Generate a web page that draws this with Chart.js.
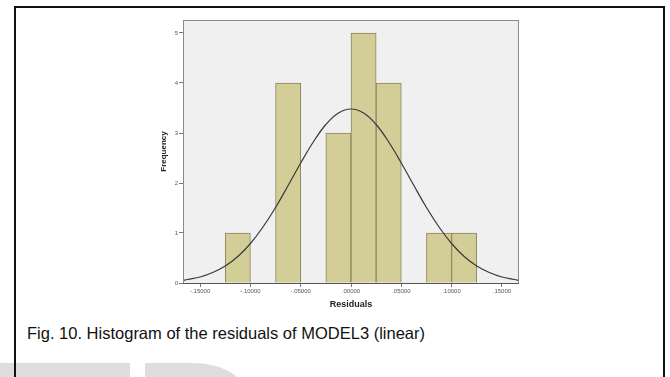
<!DOCTYPE html>
<html lang="en">
<head>
    <meta charset="UTF-8">
    <title>Histogram of residuals</title>
    <script src="https://cdn.jsdelivr.net/npm/chart.js"></script>
    <style>
        html, body { margin: 0; padding: 0; background: #fff; overflow: hidden; }
        body { width: 670px; height: 377px; position: relative; font-family: "Liberation Sans", Arial, sans-serif; }
        .wm1 { position: absolute; left: 0; top: 363px; width: 130px; height: 20px; background: #dedede; }
        .wm2 { position: absolute; left: 145px; top: 363px; width: 100px; height: 30px; background: #dedede; border-top-right-radius: 52px 30px; }
        .frame { position: absolute; left: 14px; top: 6px; width: 647px; height: 400px; border: 2px solid #111; border-bottom: none; }
        .caption { position: absolute; left: 27px; top: 324px; font-size: 16.5px; color: #111; white-space: nowrap; }
        #myChart { position: absolute; left: 0; top: 0; }
    </style>
</head>
<body>
    <div class="wm1"></div>
    <div class="wm2"></div>
    <div class="frame"></div>
    <div class="caption">Fig. 10. Histogram of the residuals of MODEL3 (linear)</div>
    <canvas id="myChart" width="670" height="377"></canvas>

    <script>
        // histogram bins (centre of each bin) and counts
        const binCenters = [-0.1125, -0.0625, -0.0125, 0.0125, 0.0375, 0.0875, 0.1125];
        const binCounts = [1, 4, 3, 5, 4, 1, 1];

        // normal curve
        const curveX = [-0.167, -0.1625, -0.15, -0.1375, -0.125, -0.1125, -0.1, -0.0875, -0.075, -0.0625, -0.05, -0.0375, -0.025, -0.0125, 0,
                        0.0125, 0.025, 0.0375, 0.05, 0.0625, 0.075, 0.0875, 0.1, 0.1125, 0.125, 0.1375, 0.15, 0.1625, 0.167];
        const curveY = [0.05, 0.07, 0.12, 0.21, 0.34, 0.53, 0.79, 1.12, 1.51, 1.95, 2.40, 2.82, 3.17, 3.40, 3.48,
                        3.40, 3.17, 2.82, 2.40, 1.95, 1.51, 1.12, 0.79, 0.53, 0.34, 0.21, 0.12, 0.07, 0.05];

        const xTickValues = [-0.15, -0.10, -0.05, 0, 0.05, 0.10, 0.15];
        const xTickLabels = ['-.15000', '-.10000', '-.05000', '.00000', '.05000', '.10000', '.15000'];
        const yTickValues = [0, 1, 2, 3, 4, 5];
        const yTickLabels = ['0', '1', '2', '3', '4', '5'];

        const plotBox = {
            id: 'plotBox',
            beforeDraw: (chart) => {
                const {ctx, chartArea: a} = chart;
                ctx.save();
                ctx.fillStyle = '#f0f0f0';
                ctx.fillRect(a.left, a.top, a.right - a.left, a.bottom - a.top);
                ctx.restore();
            },
            afterDraw: (chart) => {
                const {ctx, chartArea: a} = chart;
                ctx.save();
                ctx.strokeStyle = '#8a8a8a';
                ctx.lineWidth = 1;
                ctx.strokeRect(a.left + 0.5, a.top + 0.5, a.right - a.left - 1, a.bottom - a.top);
                ctx.strokeStyle = '#555';
                ctx.beginPath();
                ctx.moveTo(a.left, a.bottom + 0.5);
                ctx.lineTo(a.right, a.bottom + 0.5);
                ctx.stroke();
                ctx.restore();
            }
        };

        const ctx = document.getElementById('myChart');

        new Chart(ctx, {
            type: 'bar',
            data: {
                datasets: [
                    {
                        type: 'line',
                        label: 'Normal',
                        data: curveX.map((x, i) => ({x: x, y: curveY[i]})),
                        borderColor: '#3a3a3a',
                        borderWidth: 1.2,
                        pointRadius: 0,
                        tension: 0.4,
                        fill: false,
                        order: 0
                    },
                    {
                        label: 'Frequency',
                        data: binCenters.map((x, i) => ({x: x, y: binCounts[i]})),
                        backgroundColor: '#d3cd97',
                        borderColor: '#8b875f',
                        borderWidth: 1,
                        barPercentage: 1,
                        categoryPercentage: 1,
                        order: 1
                    }
                ]
            },
            options: {
                responsive: false,
                animation: false,
                layout: { padding: { left: 150, top: 20, right: 151, bottom: 67 } },
                plugins: { legend: { display: false }, tooltip: { enabled: false } },
                scales: {
                    x: {
                        type: 'linear',
                        offset: false,
                        min: -0.167,
                        max: 0.167,
                        afterBuildTicks: (s) => { s.ticks = xTickValues.map(v => ({value: v})); },
                        afterFit: (s) => { s.height = 27; s.paddingLeft = 0; s.paddingRight = 0; },
                        border: { display: false },
                        grid: { offset: false, drawOnChartArea: false, tickLength: 4, color: '#777' },
                        ticks: {
                            padding: 1,
                            color: '#555',
                            font: { size: 6, family: 'Liberation Sans' },
                            maxRotation: 0,
                            callback: (v) => xTickLabels[xTickValues.indexOf(v)]
                        },
                        title: {
                            display: true,
                            text: 'Residuals',
                            color: '#222',
                            padding: { top: 0, bottom: 0 },
                            font: { size: 9, weight: 'bold', family: 'Liberation Sans' }
                        }
                    },
                    y: {
                        min: 0,
                        max: 5.26,
                        afterBuildTicks: (s) => { s.ticks = yTickValues.map(v => ({value: v})); },
                        afterFit: (s) => { s.width = 33; s.paddingTop = 0; s.paddingBottom = 0; },
                        border: { display: false },
                        grid: { drawOnChartArea: false, tickLength: 4, color: '#777' },
                        ticks: {
                            padding: 1,
                            color: '#555',
                            font: { size: 6, family: 'Liberation Sans' },
                            callback: (v) => yTickLabels[yTickValues.indexOf(v)]
                        },
                        title: {
                            display: true,
                            text: 'Frequency',
                            color: '#222',
                            padding: { top: 9, bottom: 0 },
                            font: { size: 8, weight: 'bold', family: 'Liberation Sans' }
                        }
                    }
                }
            },
            plugins: [plotBox]
        });
    </script>
</body>
</html>
